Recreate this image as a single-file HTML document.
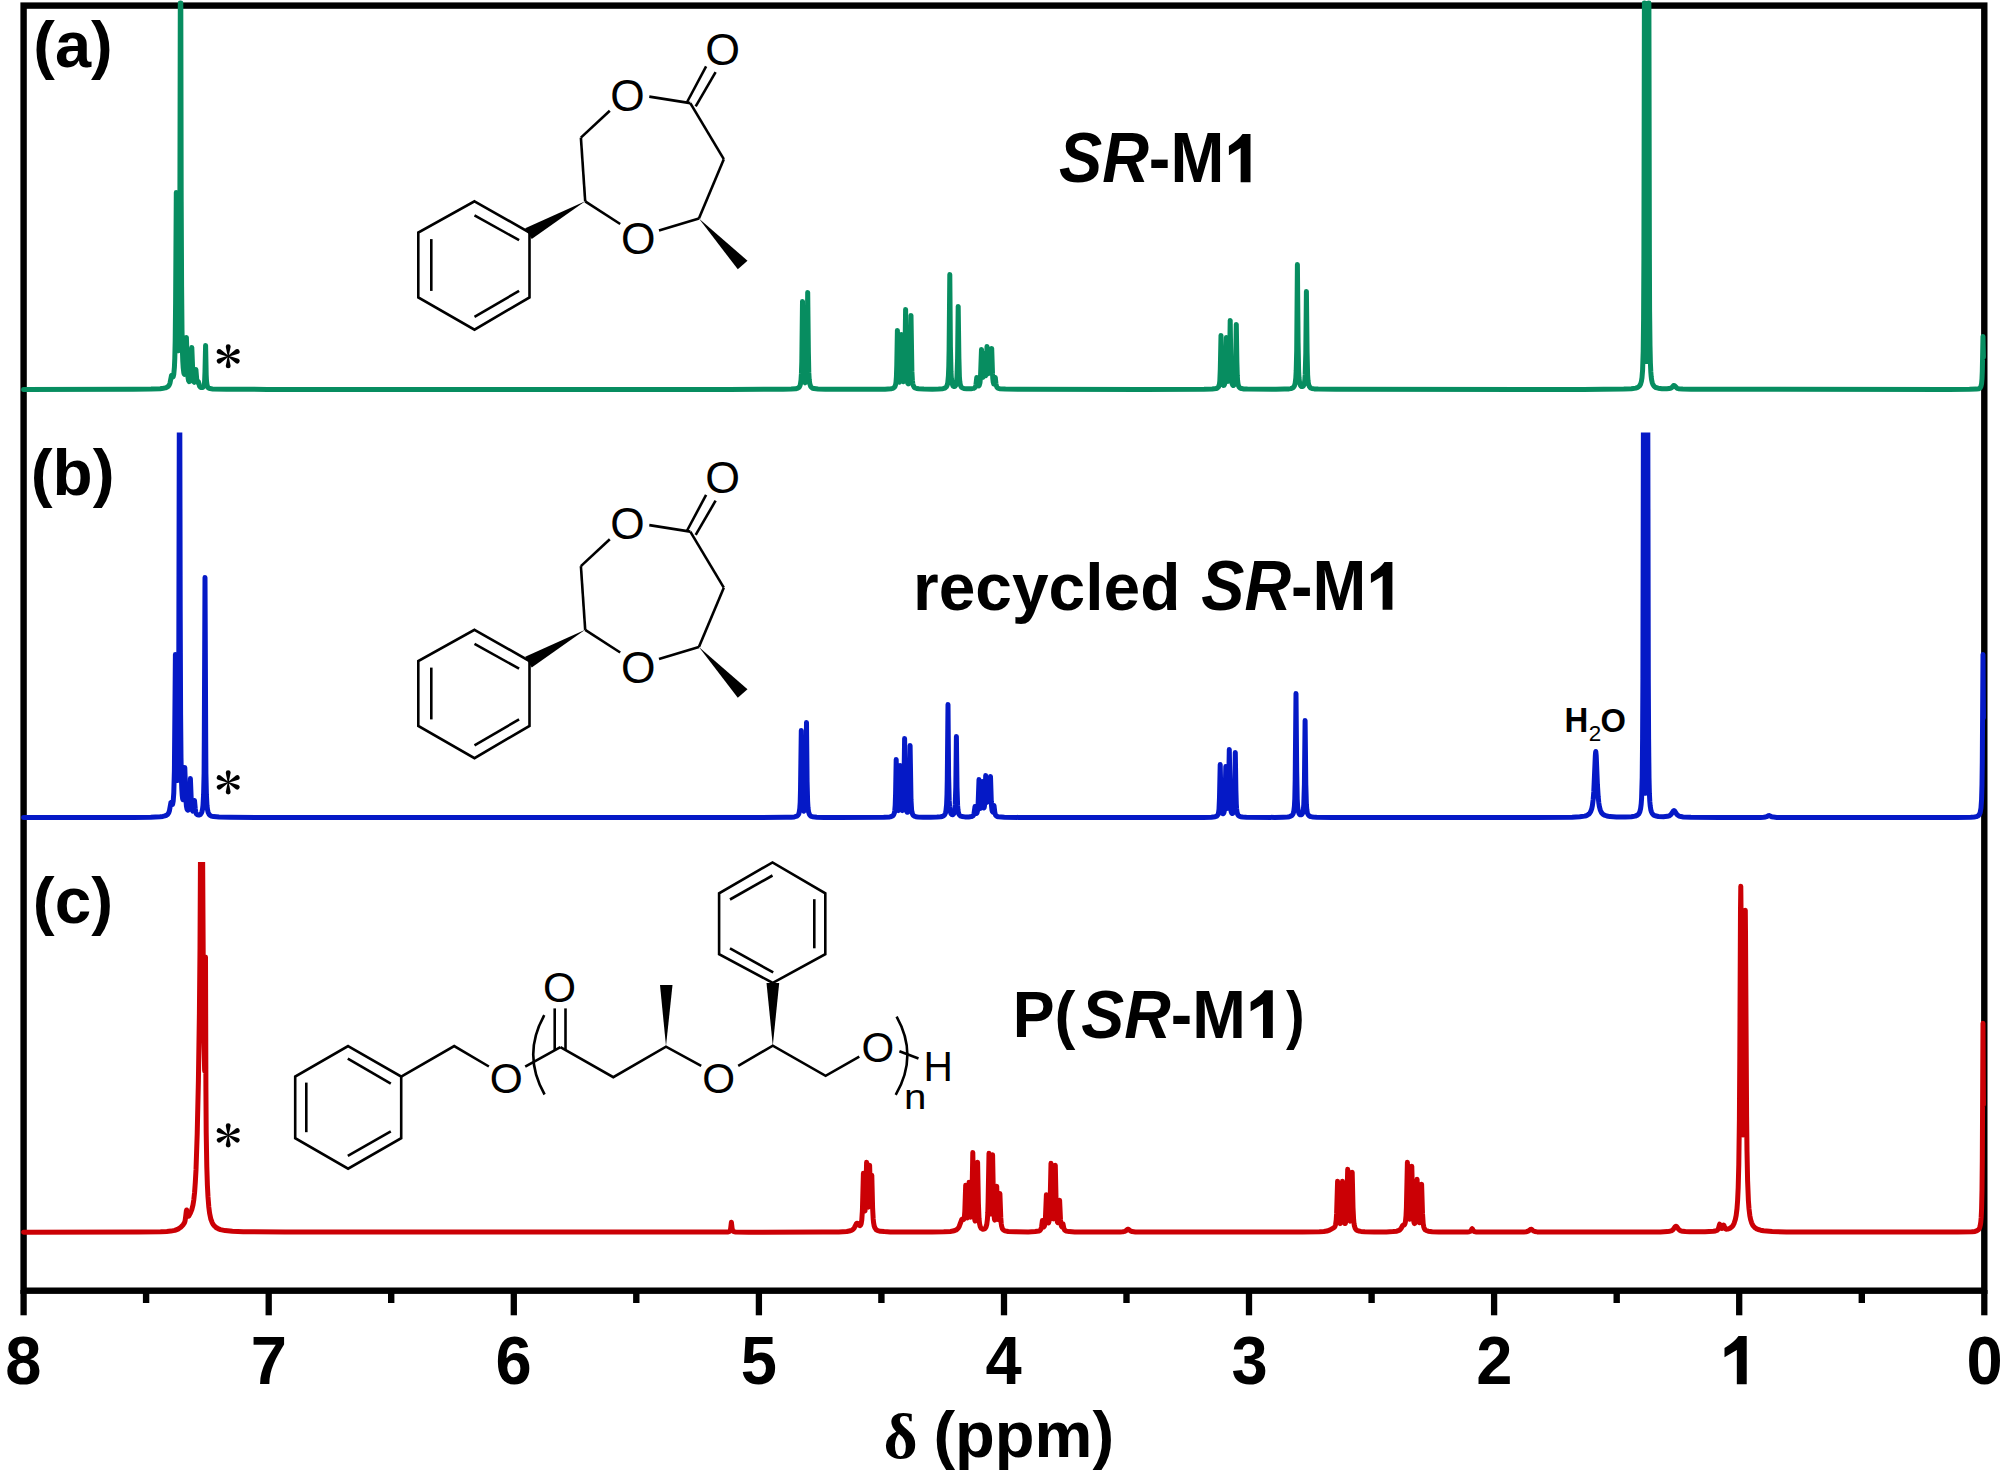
<!DOCTYPE html>
<html><head><meta charset="utf-8"><title>NMR spectra</title>
<style>html,body{margin:0;padding:0;background:#fff;overflow:hidden}svg{display:block}</style>
</head><body><svg width='2007' height='1483' viewBox='0 0 2007 1483'><rect width='2007' height='1483' fill='#fff'/><rect x='23.6' y='5.6' width='1960.7' height='1285.1' fill='none' stroke='#000' stroke-width='6.4'/><line x1='23.6' y1='1290' x2='23.6' y2='1315.3' stroke='#000' stroke-width='6.3'/><line x1='268.7' y1='1290' x2='268.7' y2='1315.3' stroke='#000' stroke-width='6.3'/><line x1='513.8' y1='1290' x2='513.8' y2='1315.3' stroke='#000' stroke-width='6.3'/><line x1='758.9' y1='1290' x2='758.9' y2='1315.3' stroke='#000' stroke-width='6.3'/><line x1='1004.0' y1='1290' x2='1004.0' y2='1315.3' stroke='#000' stroke-width='6.3'/><line x1='1249.0' y1='1290' x2='1249.0' y2='1315.3' stroke='#000' stroke-width='6.3'/><line x1='1494.1' y1='1290' x2='1494.1' y2='1315.3' stroke='#000' stroke-width='6.3'/><line x1='1739.2' y1='1290' x2='1739.2' y2='1315.3' stroke='#000' stroke-width='6.3'/><line x1='1984.3' y1='1290' x2='1984.3' y2='1315.3' stroke='#000' stroke-width='6.3'/><line x1='146.1' y1='1290' x2='146.1' y2='1303' stroke='#000' stroke-width='6.4'/><line x1='391.2' y1='1290' x2='391.2' y2='1303' stroke='#000' stroke-width='6.4'/><line x1='636.3' y1='1290' x2='636.3' y2='1303' stroke='#000' stroke-width='6.4'/><line x1='881.4' y1='1290' x2='881.4' y2='1303' stroke='#000' stroke-width='6.4'/><line x1='1126.5' y1='1290' x2='1126.5' y2='1303' stroke='#000' stroke-width='6.4'/><line x1='1371.6' y1='1290' x2='1371.6' y2='1303' stroke='#000' stroke-width='6.4'/><line x1='1616.7' y1='1290' x2='1616.7' y2='1303' stroke='#000' stroke-width='6.4'/><line x1='1861.8' y1='1290' x2='1861.8' y2='1303' stroke='#000' stroke-width='6.4'/><defs><clipPath id='cb'><rect x='0' y='432.4' width='2007' height='1100'/></clipPath><clipPath id='cc'><rect x='0' y='862' width='2007' height='700'/></clipPath></defs><g fill='none' stroke-width='5.0' stroke-linejoin='round' stroke-linecap='round'><path stroke='#078d60' d='M23.6 389.4L133.6 389.3L151.0 389.1L160.2 388.7L163.2 388.3L165.4 387.9L167.0 387.2L168.2 386.4L169.2 385.1L170.0 383.1L171.5 375.5L171.7 375.3L171.9 375.4L172.5 376.8L172.8 377.1L173.2 376.8L173.8 374.1L174.4 367.3L174.8 358.2L175.2 340.5L175.6 303.2L176.3 192.4L177.0 299.0L177.4 333.3L177.8 347.2L178.0 350.0L178.2 350.8L178.4 350.0L178.6 347.4L179.0 335.6L179.4 308.4L179.8 243.9L180.3 3.0L180.8 3.0L181.2 201.3L181.6 286.6L182.0 329.7L182.4 350.3L182.8 361.3L183.2 367.7L183.8 372.7L184.2 374.1L184.4 374.3L184.8 373.4L185.0 372.2L185.6 364.0L186.4 337.4L187.4 369.6L188.0 377.6L188.6 380.7L189.2 381.6L189.6 381.4L189.8 381.0L190.2 379.5L190.6 376.2L191.0 369.4L191.8 347.4L192.8 372.9L193.2 378.7L193.6 381.1L193.8 381.8L194.2 382.3L194.6 381.7L194.8 380.9L195.9 369.4L196.7 379.1L197.2 382.1L197.6 382.4L198.1 381.4L198.3 381.4L199.2 384.9L199.6 386.2L200.4 387.2L201.4 387.6L202.2 387.6L202.8 387.4L203.6 386.5L204.2 384.6L204.6 381.4L205.0 371.3L205.6 345.4L206.2 374.8L206.5 380.9L207.0 384.8L207.6 386.8L208.0 387.5L208.6 388.0L210.0 388.6L212.6 388.9L226.6 389.2L267.2 389.4L729.0 389.4L783.0 389.3L791.2 389.1L795.6 388.8L798.0 388.1L798.8 387.5L799.4 386.8L800.0 385.6L800.4 384.3L801.0 380.1L801.4 373.9L801.8 361.9L802.5 301.4L803.1 355.9L803.6 373.1L804.0 379.0L804.6 382.3L805.0 382.8L805.4 382.5L806.0 380.0L806.6 371.6L807.0 358.7L807.7 292.4L808.4 353.0L808.8 372.4L809.2 379.3L809.8 383.8L810.6 386.3L811.2 387.2L811.8 387.7L812.8 388.3L814.0 388.6L818.0 389.1L825.4 389.3L840.6 389.3L885.0 389.2L891.0 388.8L892.6 388.4L893.8 387.8L894.8 386.8L895.6 384.6L896.0 382.1L896.4 377.0L896.8 364.7L897.4 330.4L898.1 368.2L898.4 375.9L898.8 380.4L899.2 382.0L899.4 382.2L899.6 382.1L899.8 381.5L900.2 378.9L900.4 375.5L900.8 365.5L901.4 334.4L902.2 373.2L902.8 380.2L903.0 381.1L903.2 381.6L903.4 381.7L903.8 380.9L904.2 378.2L904.8 367.3L905.6 309.4L906.5 367.6L907.0 378.8L907.4 381.9L907.8 383.3L908.2 383.9L908.6 383.8L909.2 382.3L909.6 379.6L910.0 373.5L910.4 358.3L911.0 315.4L911.9 371.4L912.4 380.5L912.8 383.6L913.4 385.8L914.2 387.2L915.2 388.0L916.6 388.5L918.8 388.8L923.8 389.1L932.2 389.2L938.6 389.0L942.4 388.7L944.0 388.4L945.2 387.9L946.2 387.0L946.8 386.1L947.4 384.4L947.8 382.4L948.4 376.1L948.8 366.2L949.1 350.3L949.8 274.4L950.4 346.4L951.0 372.0L951.4 378.7L952.0 383.1L952.8 385.5L953.2 386.1L953.8 386.5L954.4 386.6L955.0 386.3L955.6 385.5L956.0 384.5L956.6 381.3L957.0 376.5L957.6 358.1L958.2 306.4L958.9 358.3L959.4 376.8L959.8 381.6L960.2 384.1L960.6 385.6L961.2 386.8L961.8 387.5L962.6 388.0L963.8 388.4L966.8 388.8L971.0 388.8L973.4 388.4L974.2 388.2L974.8 387.7L975.4 386.9L975.9 385.1L976.8 377.4L977.8 384.9L978.2 385.8L978.6 385.9L979.0 385.7L979.4 385.0L980.0 382.6L980.5 376.9L981.5 349.4L982.2 369.9L982.6 376.0L982.8 377.0L983.0 377.2L983.4 374.5L984.3 353.4L985.0 371.6L985.3 374.7L985.6 375.8L986.0 373.5L986.2 370.4L987.0 346.4L987.7 367.5L988.0 371.9L988.2 373.7L988.4 373.7L988.5 373.1L988.8 370.2L989.5 351.4L990.2 369.3L990.5 371.5L990.6 371.6L990.8 371.0L991.1 366.4L991.7 348.4L992.5 373.4L992.8 378.5L993.2 382.0L993.8 384.0L994.0 384.1L994.3 383.8L994.6 382.3L995.3 377.4L996.0 384.1L996.6 386.5L997.0 387.3L997.6 387.9L998.4 388.3L999.6 388.7L1005.4 389.1L1019.4 389.3L1143.4 389.4L1204.0 389.3L1212.2 389.1L1216.0 388.6L1217.6 387.9L1218.6 386.8L1219.0 385.8L1219.4 384.2L1219.8 381.0L1220.3 369.0L1221.0 335.4L1221.8 372.1L1222.2 380.5L1222.6 383.4L1223.2 385.1L1223.6 385.4L1224.0 385.3L1224.4 384.7L1224.8 383.3L1225.2 380.4L1225.8 369.1L1226.4 337.4L1227.3 375.1L1227.8 380.4L1228.2 381.3L1228.6 380.4L1229.0 377.1L1229.5 366.8L1230.2 320.4L1230.8 360.4L1231.2 373.5L1231.4 378.1L1231.8 382.0L1232.2 384.0L1232.8 385.3L1233.2 385.6L1233.6 385.5L1234.0 385.0L1234.4 384.0L1234.8 381.9L1235.2 377.5L1235.6 364.7L1236.3 324.4L1236.9 362.5L1237.3 376.0L1237.6 380.6L1238.0 383.8L1238.6 386.1L1239.2 387.2L1240.2 388.1L1241.6 388.6L1243.8 388.9L1247.4 389.1L1276.0 389.3L1284.4 389.1L1289.0 388.9L1290.8 388.6L1292.2 388.1L1293.2 387.5L1294.0 386.6L1294.6 385.4L1295.2 383.1L1295.8 378.1L1296.2 370.7L1296.7 350.8L1297.4 264.4L1298.1 342.7L1298.6 370.5L1299.0 377.8L1299.6 382.7L1300.4 385.3L1301.0 386.2L1301.6 386.6L1302.4 386.6L1303.0 386.3L1303.6 385.6L1304.0 384.6L1304.4 383.0L1304.8 380.1L1305.2 374.4L1305.8 352.7L1306.4 291.4L1307.1 352.8L1307.6 374.6L1308.0 380.4L1308.4 383.4L1308.8 385.1L1309.4 386.5L1310.0 387.3L1310.8 388.0L1312.0 388.5L1314.4 388.9L1318.2 389.1L1335.2 389.3L1583.4 389.4L1623.8 389.1L1631.4 388.8L1635.8 388.1L1637.8 387.4L1639.4 386.1L1640.6 384.1L1641.4 381.4L1642.0 377.6L1642.6 370.0L1643.2 351.3L1643.6 318.2L1643.9 258.5L1644.4 3.0L1644.6 3.0L1644.7 20.5L1645.2 270.1L1645.4 315.0L1645.8 346.1L1646.0 353.4L1646.4 360.5L1646.6 361.5L1646.8 361.1L1647.0 359.4L1647.4 350.2L1647.8 320.8L1648.3 222.3L1648.7 3.0L1648.9 3.0L1649.4 258.5L1649.6 311.4L1650.0 345.5L1650.4 363.0L1650.8 371.7L1651.2 376.6L1651.6 379.7L1652.2 382.6L1653.0 384.7L1654.0 386.2L1654.8 386.9L1655.8 387.5L1658.2 388.2L1662.0 388.7L1666.8 388.8L1669.2 388.6L1670.8 388.1L1672.0 387.3L1673.5 385.6L1674.0 385.4L1674.6 385.7L1676.6 387.8L1677.4 388.3L1678.6 388.7L1682.6 389.1L1691.0 389.3L1948.6 389.4L1969.4 389.3L1976.4 389.1L1978.8 388.7L1979.6 388.3L1980.2 387.8L1981.0 386.3L1981.6 383.4L1982.0 378.8L1982.3 371.5L1983.0 336.4L1983.4 357.1'/><path stroke='#0519c6' clip-path='url(#cb)' d='M23.6 817.5L133.6 817.4L150.8 817.2L160.0 816.7L162.8 816.4L164.8 815.9L166.4 815.3L167.6 814.4L168.6 813.1L169.4 810.9L170.9 802.6L171.1 802.4L171.3 802.6L171.9 804.2L172.2 804.6L172.4 804.5L172.6 804.2L173.2 801.1L173.8 792.8L174.4 770.5L175.4 654.5L176.1 741.0L176.6 772.2L177.0 779.8L177.2 780.5L177.4 779.4L177.8 771.9L178.2 753.6L178.6 712.1L178.8 659.4L179.3 422.4L179.8 422.4L180.2 610.5L180.6 714.7L181.0 757.8L181.4 778.2L181.8 789.0L182.2 795.1L182.6 798.4L183.0 799.7L183.2 799.5L183.4 798.8L184.0 791.8L184.8 767.5L185.8 798.2L186.4 805.9L187.0 809.0L187.6 810.1L188.0 810.2L188.2 810.0L188.6 809.0L189.0 806.9L189.6 799.8L190.4 778.5L191.3 801.2L191.6 805.6L192.0 808.9L192.4 810.4L192.8 811.0L193.2 810.6L193.4 809.9L194.5 800.5L195.3 809.1L195.8 812.2L196.2 813.5L196.6 814.2L197.2 814.7L198.0 815.0L199.2 815.0L200.4 814.4L201.4 813.1L202.0 811.6L202.6 808.7L203.0 805.4L203.6 794.5L204.1 773.1L204.3 739.4L205.0 577.5L205.7 739.5L205.9 773.2L206.4 794.7L207.0 805.6L207.6 810.2L208.2 812.5L209.0 814.2L210.0 815.3L211.4 816.1L213.6 816.6L219.0 817.1L229.6 817.3L294.4 817.5L760.6 817.5L786.0 817.3L791.2 817.2L794.4 816.9L796.8 816.2L797.6 815.6L798.2 815.0L798.8 813.8L799.2 812.4L799.8 808.4L800.2 802.2L800.5 790.3L801.3 730.5L801.9 784.3L802.4 801.4L802.8 807.2L803.4 810.5L803.8 811.1L804.2 810.8L804.8 808.3L805.4 800.1L805.8 787.4L806.5 722.5L807.1 781.8L807.6 800.8L808.0 807.6L808.6 812.0L809.4 814.4L810.0 815.3L810.6 815.9L811.6 816.4L812.8 816.7L816.8 817.2L824.0 817.4L839.0 817.4L883.8 817.3L889.8 816.9L891.4 816.5L892.6 816.0L893.6 814.9L894.4 812.8L894.8 810.3L895.2 805.3L895.6 793.3L896.2 759.5L896.9 796.7L897.2 804.3L897.6 808.7L898.0 810.4L898.2 810.6L898.4 810.5L898.6 810.0L899.0 807.6L899.2 804.3L899.6 794.9L900.2 765.5L901.1 803.3L901.6 809.0L902.0 810.4L902.2 810.6L902.4 810.5L902.8 809.5L903.2 806.7L903.8 795.9L904.6 738.5L905.5 796.1L906.0 807.1L906.4 810.2L906.8 811.6L907.2 812.3L907.6 812.3L908.2 811.1L908.8 806.9L909.1 802.0L909.5 787.3L910.1 745.5L911.0 800.0L911.6 809.8L912.0 812.3L912.6 814.3L913.4 815.5L914.4 816.2L915.8 816.7L918.0 817.0L923.0 817.2L930.8 817.2L937.0 817.1L940.6 816.8L942.2 816.5L943.4 816.0L944.4 815.1L945.0 814.2L945.6 812.6L946.0 810.6L946.6 804.5L947.0 794.7L947.3 779.1L948.0 704.5L948.6 775.2L949.2 800.4L949.6 807.0L950.2 811.4L951.0 813.7L951.4 814.2L952.0 814.6L952.6 814.7L953.2 814.4L953.8 813.7L954.2 812.7L954.8 809.6L955.2 804.9L955.8 787.0L956.4 736.5L957.0 787.1L957.6 805.2L958.0 809.9L958.4 812.4L958.8 813.8L959.4 815.0L960.0 815.6L960.8 816.1L962.0 816.5L964.8 816.9L968.8 816.9L971.4 816.6L972.8 816.0L973.6 815.1L974.0 813.7L975.0 806.5L976.0 812.7L976.4 813.4L976.8 813.2L977.0 812.8L977.6 810.4L978.1 804.8L979.0 779.5L979.7 799.6L980.2 806.8L980.4 807.9L980.6 808.3L980.8 808.2L981.3 805.2L982.3 781.5L983.1 802.9L983.6 807.2L983.8 807.9L984.0 808.0L984.4 806.6L984.9 801.1L985.7 775.5L986.4 796.2L986.8 801.7L987.0 802.3L987.2 801.5L987.4 799.3L988.2 779.5L989.0 797.9L989.2 800.5L989.4 800.7L989.5 800.2L989.9 795.0L990.5 776.5L991.3 801.5L991.6 806.6L992.0 810.1L992.4 811.6L992.8 812.0L993.0 811.8L993.4 810.3L994.0 805.5L994.8 812.2L995.4 814.8L995.8 815.5L996.4 816.1L997.2 816.5L998.4 816.8L1004.4 817.2L1018.6 817.4L1146.4 817.5L1203.4 817.4L1211.4 817.2L1215.2 816.7L1216.8 816.1L1217.8 814.9L1218.2 814.0L1218.6 812.4L1219.0 809.3L1219.5 797.5L1220.2 764.5L1221.0 800.6L1221.4 808.8L1221.8 811.7L1222.4 813.4L1222.8 813.8L1223.4 813.6L1223.8 812.9L1224.2 811.6L1224.6 808.7L1225.1 797.6L1225.8 766.5L1226.6 802.1L1227.2 807.9L1227.4 808.3L1227.6 808.2L1227.8 807.4L1228.2 803.6L1228.5 794.9L1229.3 749.5L1230.2 800.5L1230.8 809.5L1231.2 811.7L1231.8 813.2L1232.2 813.5L1232.6 813.5L1233.0 813.1L1233.4 812.1L1233.8 810.0L1234.2 805.5L1234.6 792.8L1235.3 752.5L1235.9 790.6L1236.3 804.1L1236.6 808.7L1237.0 811.9L1237.6 814.2L1238.2 815.3L1239.2 816.2L1240.6 816.7L1242.8 817.0L1246.4 817.2L1274.6 817.4L1283.0 817.2L1287.6 817.0L1289.4 816.7L1290.8 816.2L1291.8 815.6L1292.6 814.7L1293.2 813.5L1293.8 811.2L1294.4 806.3L1294.8 799.0L1295.2 779.2L1296.0 693.5L1296.7 771.2L1297.2 798.8L1297.6 806.1L1298.2 810.9L1299.0 813.5L1299.6 814.4L1300.2 814.8L1301.0 814.8L1301.6 814.6L1302.2 813.9L1302.6 813.1L1303.0 811.7L1303.4 809.2L1303.8 804.5L1304.4 784.4L1305.1 720.5L1305.8 784.5L1306.4 804.7L1306.8 809.5L1307.2 812.1L1307.6 813.5L1308.2 814.8L1308.8 815.6L1309.6 816.1L1310.8 816.6L1313.0 817.0L1316.6 817.2L1332.4 817.4L1535.0 817.4L1572.2 817.2L1579.8 816.8L1584.6 816.1L1586.2 815.7L1587.6 815.0L1588.8 814.2L1589.8 813.1L1590.6 811.7L1591.2 810.3L1591.8 808.4L1592.4 805.5L1593.2 799.3L1593.8 791.7L1595.3 756.3L1595.6 752.5L1595.8 751.5L1596.2 755.4L1597.4 784.5L1598.2 797.1L1598.8 802.8L1599.4 806.6L1600.2 809.7L1601.4 812.5L1602.8 814.1L1604.4 815.2L1606.8 816.0L1610.0 816.6L1616.4 816.9L1625.4 817.0L1631.4 816.7L1635.2 816.1L1637.4 815.1L1638.8 813.8L1639.8 811.8L1640.6 808.7L1641.2 803.9L1641.6 798.0L1642.2 777.5L1642.6 738.4L1642.9 680.3L1643.4 422.4L1643.5 424.4L1644.1 707.0L1644.4 754.9L1644.8 782.2L1645.0 787.6L1645.4 792.7L1645.6 793.2L1645.8 792.7L1646.0 790.9L1646.6 773.6L1646.9 749.5L1647.2 678.7L1647.7 424.4L1647.8 422.4L1648.3 680.3L1648.6 738.4L1649.0 777.5L1649.4 793.5L1649.8 801.4L1650.2 805.9L1650.8 809.7L1651.4 811.8L1652.2 813.5L1653.2 814.7L1654.2 815.4L1655.2 815.8L1658.4 816.5L1663.4 816.7L1667.4 816.3L1669.2 815.8L1670.6 814.9L1671.6 813.7L1673.3 811.0L1674.0 810.5L1674.7 811.0L1677.0 814.6L1678.0 815.4L1679.2 816.1L1681.0 816.6L1683.2 816.9L1690.8 817.3L1720.0 817.4L1760.4 817.4L1763.6 817.2L1765.6 817.0L1766.8 816.6L1768.4 815.7L1769.0 815.5L1769.5 815.6L1771.6 816.7L1773.4 817.1L1776.8 817.4L1783.6 817.4L1957.0 817.4L1970.8 817.2L1974.2 817.0L1976.4 816.6L1977.8 816.0L1978.8 815.2L1979.6 814.0L1980.2 812.5L1981.0 807.9L1981.6 799.1L1982.0 784.9L1982.3 762.4L1983.0 654.5L1983.4 718.1'/><path stroke='#cb0005' clip-path='url(#cc)' d='M23.6 1232.2L138.6 1232.0L160.6 1231.7L166.8 1231.4L170.8 1231.1L174.8 1230.4L178.0 1229.1L180.8 1227.2L183.2 1224.7L184.4 1222.8L185.0 1221.1L185.5 1218.0L186.3 1211.2L186.6 1210.0L186.8 1210.7L187.6 1215.2L188.0 1216.2L188.4 1216.3L188.8 1216.0L190.4 1213.1L191.8 1209.6L193.0 1204.8L193.8 1199.8L194.6 1192.2L195.3 1182.4L196.0 1169.9L197.2 1134.0L198.4 1080.7L199.4 1013.3L200.0 947.7L200.5 852.0L202.6 852.0L203.4 988.8L204.0 1043.5L204.6 1069.5L204.7 1071.0L204.8 1069.6L205.0 1057.0L205.5 957.1L205.9 1087.7L206.2 1132.5L206.8 1166.8L207.4 1185.3L208.0 1196.9L208.8 1207.0L209.6 1213.3L210.8 1219.0L212.2 1222.7L213.2 1224.4L214.2 1225.7L215.6 1227.1L217.0 1228.1L218.6 1228.9L220.4 1229.6L225.2 1230.6L232.4 1231.3L243.2 1231.7L285.0 1232.1L724.2 1232.1L728.2 1231.9L729.2 1231.6L729.8 1231.1L730.2 1230.4L730.6 1229.0L731.4 1222.2L732.1 1228.4L732.6 1230.4L733.0 1231.1L733.6 1231.6L735.6 1232.0L748.8 1232.2L822.4 1232.1L838.8 1231.9L846.8 1231.5L850.4 1230.8L851.8 1230.2L852.8 1229.6L853.6 1228.8L854.4 1227.7L856.2 1224.0L856.9 1223.2L857.2 1223.2L857.5 1223.4L859.0 1225.2L859.8 1225.7L860.2 1225.5L860.6 1225.1L861.2 1223.5L861.8 1219.8L862.4 1210.5L863.4 1173.2L864.3 1204.2L864.6 1209.2L864.8 1210.7L865.0 1210.8L865.4 1207.5L865.7 1200.7L866.6 1162.2L867.5 1197.8L868.0 1207.0L868.2 1207.1L868.4 1205.7L868.7 1200.3L869.6 1165.2L870.6 1197.7L870.8 1198.6L870.8 1198.3L871.0 1195.7L871.6 1177.9L871.8 1175.2L872.6 1207.8L873.2 1218.9L873.6 1222.8L874.2 1226.0L875.0 1228.1L876.2 1229.7L877.8 1230.6L880.4 1231.3L884.2 1231.6L890.2 1231.9L907.0 1232.0L932.0 1232.0L943.8 1231.8L950.4 1231.4L952.8 1231.1L954.8 1230.5L956.2 1229.9L957.4 1229.0L958.4 1227.8L959.2 1226.4L961.8 1219.5L962.0 1219.2L962.4 1219.1L963.2 1219.6L963.6 1219.6L964.0 1218.9L964.4 1216.7L964.8 1211.5L965.7 1185.2L966.7 1212.5L967.0 1216.6L967.2 1217.6L967.4 1217.8L967.6 1217.4L968.0 1214.2L968.2 1209.7L969.1 1182.2L970.1 1211.4L970.4 1215.7L970.6 1216.7L970.8 1217.0L971.0 1216.5L971.6 1209.9L971.9 1201.7L972.8 1152.6L973.7 1202.4L974.0 1211.1L974.6 1218.8L975.0 1220.7L975.2 1221.0L975.4 1220.9L975.6 1220.5L976.0 1218.3L976.4 1213.3L976.9 1200.1L977.6 1162.2L978.4 1203.2L979.0 1218.3L979.6 1223.9L980.2 1226.5L980.8 1227.8L981.4 1228.5L982.2 1229.0L983.0 1229.2L984.0 1229.1L984.8 1228.7L985.4 1228.1L986.0 1227.0L986.8 1224.2L987.4 1219.4L987.8 1212.7L988.1 1201.8L989.0 1153.2L989.9 1199.4L990.2 1209.0L990.6 1213.4L990.8 1213.9L991.0 1213.4L991.2 1211.9L991.6 1203.2L992.6 1154.7L993.5 1203.1L993.8 1211.4L994.4 1218.7L994.6 1219.7L994.8 1220.1L995.0 1220.0L995.4 1218.2L995.6 1216.2L996.0 1209.6L996.7 1186.2L997.6 1212.2L997.8 1216.4L998.2 1219.4L998.4 1219.6L998.6 1219.2L999.0 1215.5L999.9 1193.5L1000.8 1217.9L1001.2 1223.3L1001.6 1226.1L1002.4 1228.7L1003.4 1230.0L1004.2 1230.5L1005.2 1230.9L1008.2 1231.5L1015.6 1231.8L1028.2 1231.9L1035.2 1231.6L1038.8 1231.1L1040.2 1230.3L1041.0 1229.0L1041.6 1226.9L1042.4 1220.6L1043.3 1225.9L1043.6 1226.7L1043.8 1226.9L1044.0 1226.8L1044.4 1226.1L1044.8 1224.5L1045.4 1218.6L1046.4 1194.7L1047.4 1217.4L1048.0 1222.2L1048.2 1222.7L1048.4 1222.9L1048.6 1222.8L1049.0 1221.5L1049.4 1218.5L1050.0 1207.7L1051.0 1163.2L1052.0 1205.3L1052.4 1214.5L1052.8 1218.0L1053.0 1218.7L1053.2 1218.8L1053.6 1217.6L1054.2 1209.8L1055.3 1165.2L1056.2 1206.9L1056.6 1214.9L1057.2 1221.1L1057.4 1222.0L1057.8 1222.6L1058.2 1221.8L1058.4 1220.7L1058.8 1216.1L1059.6 1200.2L1060.5 1219.7L1061.0 1224.2L1061.4 1226.1L1061.8 1226.8L1062.1 1226.6L1062.8 1224.2L1063.0 1223.9L1063.9 1228.4L1064.6 1230.0L1065.2 1230.6L1066.2 1231.1L1069.2 1231.6L1074.8 1231.9L1085.2 1232.1L1109.4 1232.1L1120.0 1232.0L1122.8 1231.8L1124.6 1231.4L1125.8 1230.8L1127.4 1229.4L1128.0 1229.2L1128.6 1229.4L1130.4 1230.9L1132.2 1231.6L1135.4 1232.0L1141.6 1232.1L1302.4 1232.1L1319.4 1231.8L1323.8 1231.5L1326.8 1231.1L1329.6 1230.1L1334.0 1227.6L1334.6 1227.0L1335.0 1226.3L1335.6 1224.4L1336.2 1220.1L1336.6 1213.9L1337.6 1181.2L1338.5 1212.3L1339.0 1219.3L1339.4 1222.2L1339.8 1223.4L1340.0 1223.6L1340.2 1223.5L1340.4 1223.2L1340.8 1221.6L1341.2 1218.2L1341.7 1208.4L1342.5 1181.2L1343.3 1208.4L1343.8 1218.1L1344.4 1222.6L1344.8 1223.5L1345.0 1223.6L1345.2 1223.5L1345.4 1223.2L1346.0 1220.3L1346.6 1212.0L1347.7 1169.2L1348.6 1206.3L1349.0 1215.1L1349.4 1219.2L1349.8 1220.8L1350.0 1221.0L1350.2 1220.8L1350.6 1218.9L1351.0 1214.2L1351.4 1204.4L1352.2 1172.2L1353.0 1207.3L1353.6 1219.3L1354.0 1223.4L1354.4 1225.8L1355.0 1227.9L1355.8 1229.3L1357.0 1230.4L1358.6 1231.0L1361.0 1231.4L1364.8 1231.7L1374.2 1231.9L1386.4 1231.9L1393.0 1231.6L1396.8 1231.2L1399.0 1230.4L1400.4 1229.4L1401.2 1228.3L1402.8 1225.3L1403.3 1225.0L1404.2 1224.9L1404.6 1224.5L1405.0 1223.6L1405.4 1221.9L1406.0 1216.1L1406.4 1207.5L1407.4 1162.2L1408.4 1206.5L1408.8 1214.5L1409.4 1218.9L1409.6 1219.2L1409.8 1219.0L1410.0 1218.3L1410.6 1212.0L1411.0 1201.3L1411.8 1166.2L1412.8 1208.6L1413.4 1218.9L1414.0 1222.6L1414.4 1223.5L1414.6 1223.6L1414.8 1223.4L1415.0 1223.0L1415.4 1221.4L1415.8 1217.7L1416.3 1207.5L1417.1 1179.2L1418.0 1210.3L1418.4 1217.7L1418.8 1221.2L1419.2 1222.6L1419.4 1222.8L1419.6 1222.7L1420.0 1221.2L1420.4 1217.6L1420.8 1209.8L1421.6 1184.2L1422.5 1213.4L1423.2 1223.7L1423.8 1227.0L1424.2 1228.2L1424.8 1229.3L1425.4 1230.0L1426.2 1230.5L1428.2 1231.2L1432.2 1231.7L1439.0 1232.0L1457.6 1232.1L1467.4 1232.0L1469.2 1231.8L1470.4 1231.3L1471.0 1230.6L1471.8 1229.0L1472.1 1228.7L1472.4 1229.0L1473.4 1230.9L1474.2 1231.5L1475.8 1231.9L1479.4 1232.1L1511.6 1232.1L1523.8 1232.0L1526.2 1231.7L1527.8 1231.3L1529.0 1230.7L1530.5 1229.4L1531.0 1229.2L1531.6 1229.4L1533.4 1231.0L1534.8 1231.5L1537.2 1231.9L1541.2 1232.1L1616.2 1232.1L1660.4 1232.0L1667.4 1231.6L1669.4 1231.3L1671.0 1230.9L1672.0 1230.4L1673.0 1229.7L1675.3 1226.6L1676.0 1226.2L1676.7 1226.6L1678.4 1229.0L1679.4 1230.0L1680.8 1230.8L1682.6 1231.3L1685.4 1231.6L1689.6 1231.8L1705.0 1231.7L1713.4 1231.3L1715.4 1231.0L1716.8 1230.5L1717.6 1229.9L1718.2 1229.0L1718.7 1227.7L1719.5 1224.6L1719.7 1224.2L1720.0 1224.7L1720.8 1227.5L1721.4 1228.4L1722.0 1228.5L1722.4 1228.1L1723.5 1225.5L1723.7 1225.2L1724.0 1225.6L1724.8 1227.9L1725.4 1228.7L1726.4 1229.2L1727.8 1229.1L1729.2 1228.7L1730.4 1228.0L1731.6 1227.1L1732.6 1226.0L1733.4 1224.8L1734.2 1223.1L1735.4 1219.3L1736.2 1215.2L1737.0 1208.6L1737.6 1200.6L1738.2 1187.5L1738.8 1164.4L1739.4 1119.4L1739.8 1056.7L1740.5 909.0L1740.8 886.2L1741.0 906.2L1742.0 1080.4L1742.4 1115.6L1742.8 1132.1L1743.0 1135.0L1743.2 1134.8L1743.4 1131.4L1744.0 1098.1L1745.0 928.5L1745.3 910.2L1745.5 931.5L1746.6 1116.3L1747.0 1151.3L1747.6 1180.9L1748.4 1200.6L1749.0 1208.7L1749.8 1215.4L1750.6 1219.5L1751.6 1222.8L1753.0 1225.6L1754.6 1227.4L1756.2 1228.6L1758.2 1229.5L1760.6 1230.2L1763.6 1230.8L1772.2 1231.5L1786.4 1231.9L1839.4 1232.1L1957.8 1232.1L1971.8 1231.8L1975.0 1231.4L1977.2 1230.6L1978.4 1229.7L1979.2 1228.6L1979.8 1227.2L1980.4 1224.7L1980.8 1221.9L1981.2 1217.2L1981.6 1208.5L1982.0 1190.4L1982.3 1161.6L1983.0 1023.2L1983.4 1104.8'/></g><g stroke='#000' stroke-width='2.6' stroke-linecap='butt' stroke-linejoin='miter'><polygon points='474.5,201.3 529.5,232.6 529.5,297.4 474.5,329.7 418.3,297.4 418.3,232.6' fill='none'/><line x1='474.5' y1='215.3' x2='519.1' y2='240.2'/><line x1='431.3' y1='239.1' x2='431.3' y2='290.9'/><line x1='474.5' y1='316.8' x2='519.1' y2='290.9'/><line x1='585.2' y1='201.3' x2='580.9' y2='137.6'/><line x1='580.9' y1='137.6' x2='609.8' y2='110.7'/><line x1='649.3' y1='96.6' x2='690.3' y2='103.1'/><line x1='690.3' y1='103.1' x2='723.8' y2='159.2'/><line x1='723.8' y1='159.2' x2='698.9' y2='218.6'/><line x1='698.9' y1='218.6' x2='659.0' y2='230.4'/><line x1='620.2' y1='224.0' x2='585.2' y2='201.3'/><line x1='687.1' y1='102.0' x2='706.1' y2='66.4'/><line x1='695.7' y1='106.3' x2='715.6' y2='72.2'/><polygon points='585.2,201.3 525.2,228.3 531.7,239.1' fill='#000' stroke='none'/><polygon points='698.9,218.6 737.8,269.3 747.5,260.7' fill='#000' stroke='none'/></g><text transform='matrix(0.4426 0 0 0.4437 610.19 110.76)' x='0' y='0' font-size='100' font-family='Liberation Sans'>O</text><text transform='matrix(0.4441 0 0 0.4423 620.98 254.46)' x='0' y='0' font-size='100' font-family='Liberation Sans'>O</text><text transform='matrix(0.4471 0 0 0.4437 705.26 64.96)' x='0' y='0' font-size='100' font-family='Liberation Sans'>O</text><g stroke='#000' stroke-width='2.6' stroke-linecap='butt' stroke-linejoin='miter'><polygon points='474.5,629.8 529.5,661.1 529.5,725.9 474.5,758.2 418.3,725.9 418.3,661.1' fill='none'/><line x1='474.5' y1='643.8' x2='519.1' y2='668.7'/><line x1='431.3' y1='667.6' x2='431.3' y2='719.4'/><line x1='474.5' y1='745.3' x2='519.1' y2='719.4'/><line x1='585.2' y1='629.8' x2='580.9' y2='566.1'/><line x1='580.9' y1='566.1' x2='609.8' y2='539.2'/><line x1='649.3' y1='525.1' x2='690.3' y2='531.6'/><line x1='690.3' y1='531.6' x2='723.8' y2='587.7'/><line x1='723.8' y1='587.7' x2='698.9' y2='647.1'/><line x1='698.9' y1='647.1' x2='659.0' y2='658.9'/><line x1='620.2' y1='652.5' x2='585.2' y2='629.8'/><line x1='687.1' y1='530.5' x2='706.1' y2='494.9'/><line x1='695.7' y1='534.8' x2='715.6' y2='500.7'/><polygon points='585.2,629.8 525.2,656.8 531.7,667.6' fill='#000' stroke='none'/><polygon points='698.9,647.1 737.8,697.8 747.5,689.2' fill='#000' stroke='none'/></g><text transform='matrix(0.4426 0 0 0.4437 610.19 539.26)' x='0' y='0' font-size='100' font-family='Liberation Sans'>O</text><text transform='matrix(0.4441 0 0 0.4423 620.98 682.96)' x='0' y='0' font-size='100' font-family='Liberation Sans'>O</text><text transform='matrix(0.4471 0 0 0.4437 705.26 493.46)' x='0' y='0' font-size='100' font-family='Liberation Sans'>O</text><g stroke='#000' stroke-width='2.6' stroke-linecap='butt' stroke-linejoin='miter'><polygon points='348.1,1046.1 401.2,1076.6 401.2,1138.2 348.1,1168.7 295.2,1138.2 295.2,1076.6' fill='none'/><line x1='347.8' y1='1058.7' x2='390.8' y2='1083.6'/><line x1='306.3' y1='1082.6' x2='306.3' y2='1132.2'/><line x1='347.8' y1='1155.8' x2='390.8' y2='1131.4'/><polyline points='401.2,1076.6 454.2,1046.1 488.9,1066.5' fill='none'/><line x1='525.2' y1='1066.7' x2='560.4' y2='1047.1'/><line x1='554.7' y1='1008.4' x2='554.7' y2='1050.0'/><line x1='565.5' y1='1008.4' x2='565.5' y2='1050.0'/><polyline points='560.4,1047.1 613.3,1077.2 666.0,1046.7 701.2,1065.8' fill='none'/><polygon points='666.0,1046.1 660.0,985.1 672.5,985.1' fill='#000' stroke='none'/><polyline points='738.2,1065.8 772.8,1045.7 825.6,1075.8 859.3,1056.7' fill='none'/><polygon points='772.8,1045.7 766.5,982.9 779.2,982.9' fill='#000' stroke='none'/><polygon points='772.8,982.9 825.3,954.2 825.3,893.3 772.5,862.4 719.1,893.3 719.1,954.2' fill='none'/><line x1='730.0' y1='899.5' x2='772.5' y2='875.5'/><line x1='814.3' y1='899.2' x2='814.3' y2='948.3'/><line x1='730.0' y1='948.3' x2='773.2' y2='972.4'/><line x1='899.4' y1='1051.2' x2='918.5' y2='1058.5'/><path d='M544.3 1015.2 Q522.0 1054.8 544.6 1094.5' fill='none'/><path d='M896.6 1016.6 Q918.6 1055.8 895.7 1094.9' fill='none'/></g><text transform='matrix(0.4250 0 0 0.4225 489.77 1092.98)' x='0' y='0' font-size='100' font-family='Liberation Sans'>O</text><text transform='matrix(0.4250 0 0 0.4225 542.98 1001.58)' x='0' y='0' font-size='100' font-family='Liberation Sans'>O</text><text transform='matrix(0.4221 0 0 0.4225 702.29 1092.58)' x='0' y='0' font-size='100' font-family='Liberation Sans'>O</text><text transform='matrix(0.4206 0 0 0.4268 861.60 1061.77)' x='0' y='0' font-size='100' font-family='Liberation Sans'>O</text><text transform='matrix(0.4071 0 0 0.4217 923.44 1081.20)' x='0' y='0' font-size='100' font-family='Liberation Sans'>H</text><text transform='matrix(0.4024 0 0 0.3556 903.88 1108.60)' x='0' y='0' font-size='100' font-family='Liberation Sans'>n</text><g fill='#000'><text transform='matrix(0.6500 0 0 0.6457 33.25 67.14)' x='0' y='0' font-size='100' font-family='Liberation Sans' font-weight='bold'>(a)</text><text transform='matrix(0.6568 0 0 0.6489 30.72 495.27)' x='0' y='0' font-size='100' font-family='Liberation Sans' font-weight='bold'>(b)</text><text transform='matrix(0.6571 0 0 0.6468 32.81 923.22)' x='0' y='0' font-size='100' font-family='Liberation Sans' font-weight='bold'>(c)</text><text transform='matrix(0.6464 0 0 0.6986 1059.05 182.10)' x='0' y='0' font-size='100' font-family='Liberation Sans' font-weight='bold'><tspan font-style='italic'>SR</tspan>-M</text><path d='M1242.51 134.10 L1250.50 134.10 L1250.50 182.20 L1240.64 182.20 L1240.64 148.05 L1228.90 155.26 L1228.90 146.12 Q1238.84 139.87 1242.51 134.10Z'/><text transform='matrix(0.6589 0 0 0.6606 912.99 609.93)' x='0' y='0' font-size='100' font-family='Liberation Sans' font-weight='bold'>recycled</text><text transform='matrix(0.6456 0 0 0.7000 1201.35 610.00)' x='0' y='0' font-size='100' font-family='Liberation Sans' font-weight='bold'><tspan font-style='italic'>SR</tspan>-M</text><path d='M1384.45 562.10 L1392.40 562.10 L1392.40 609.80 L1382.62 609.80 L1382.62 575.93 L1370.90 583.09 L1370.90 574.02 Q1380.79 567.82 1384.45 562.10Z'/><text transform='matrix(0.6280 0 0 0.6436 1012.70 1037.18)' x='0' y='0' font-size='100' font-family='Liberation Sans' font-weight='bold'>P(</text><text transform='matrix(0.6435 0 0 0.6915 1081.36 1037.91)' x='0' y='0' font-size='100' font-family='Liberation Sans' font-weight='bold'><tspan font-style='italic'>SR</tspan>-M</text><path d='M1264.59 990.20 L1272.80 990.20 L1272.80 1037.90 L1263.02 1037.90 L1263.02 1004.03 L1250.60 1011.19 L1250.60 1002.12 Q1260.81 995.92 1264.59 990.20Z'/><text transform='matrix(0.5571 0 0 0.6436 1286.00 1037.18)' x='0' y='0' font-size='100' font-family='Liberation Sans' font-weight='bold'>)</text><text transform='matrix(0.6510 0 0 0.6790 5.37 1383.90)' x='0' y='0' font-size='100' font-family='Liberation Sans' font-weight='bold'>8</text><text transform='matrix(0.6510 0 0 0.6790 250.78 1383.90)' x='0' y='0' font-size='100' font-family='Liberation Sans' font-weight='bold'>7</text><text transform='matrix(0.6510 0 0 0.6790 495.55 1383.90)' x='0' y='0' font-size='100' font-family='Liberation Sans' font-weight='bold'>6</text><text transform='matrix(0.6510 0 0 0.6790 740.63 1383.90)' x='0' y='0' font-size='100' font-family='Liberation Sans' font-weight='bold'>5</text><text transform='matrix(0.6510 0 0 0.6790 985.40 1383.90)' x='0' y='0' font-size='100' font-family='Liberation Sans' font-weight='bold'>4</text><text transform='matrix(0.6510 0 0 0.6790 1231.46 1383.90)' x='0' y='0' font-size='100' font-family='Liberation Sans' font-weight='bold'>3</text><text transform='matrix(0.6510 0 0 0.6790 1476.22 1383.90)' x='0' y='0' font-size='100' font-family='Liberation Sans' font-weight='bold'>2</text><path d='M1738.50 1336.00 L1746.71 1336.00 L1746.71 1384.20 L1736.83 1384.20 L1736.83 1349.98 L1724.51 1357.21 L1724.51 1348.05 Q1734.72 1341.78 1738.50 1336.00Z'/><text transform='matrix(0.6510 0 0 0.6790 1966.40 1383.90)' x='0' y='0' font-size='100' font-family='Liberation Sans' font-weight='bold'>0</text><text transform='matrix(0.6568 0 0 0.6394 883.57 1457.86)' x='0' y='0' font-size='100' font-family='Liberation Serif' font-weight='bold'>δ</text><text transform='matrix(0.6507 0 0 0.6468 933.45 1457.22)' x='0' y='0' font-size='100' font-family='Liberation Sans' font-weight='bold'>(ppm)</text><text transform='matrix(0.3293 0 0 0.3449 1564.59 731.80)' x='0' y='0' font-size='100' font-family='Liberation Sans' font-weight='bold'>H</text><text transform='matrix(0.2239 0 0 0.2257 1588.68 740.90)' x='0' y='0' font-size='100' font-family='Liberation Sans'>2</text><text transform='matrix(0.3271 0 0 0.3352 1600.59 731.66)' x='0' y='0' font-size='100' font-family='Liberation Sans' font-weight='bold'>O</text><g fill='#000'><path d='M228.70 356.30 L230.65 346.70 A2.45 2.45 0 1 0 225.75 346.70 L227.70 356.30 Z'/><path d='M227.70 356.30 L225.75 365.90 A2.45 2.45 0 1 0 230.65 365.90 L228.70 356.30 Z'/><path d='M228.43 356.74 L238.29 353.77 A2.50 2.50 0 1 0 235.94 349.35 L227.97 355.86 Z'/><path d='M228.43 355.86 L220.46 349.35 A2.50 2.50 0 1 0 218.11 353.77 L227.97 356.74 Z'/><path d='M227.97 355.86 L218.11 358.83 A2.50 2.50 0 1 0 220.46 363.25 L228.43 356.74 Z'/><path d='M227.97 356.74 L235.94 363.25 A2.50 2.50 0 1 0 238.29 358.83 L228.43 355.86 Z'/></g><g fill='#000'><path d='M228.70 782.40 L230.65 772.80 A2.45 2.45 0 1 0 225.75 772.80 L227.70 782.40 Z'/><path d='M227.70 782.40 L225.75 792.00 A2.45 2.45 0 1 0 230.65 792.00 L228.70 782.40 Z'/><path d='M228.43 782.84 L238.29 779.87 A2.50 2.50 0 1 0 235.94 775.45 L227.97 781.96 Z'/><path d='M228.43 781.96 L220.46 775.45 A2.50 2.50 0 1 0 218.11 779.87 L227.97 782.84 Z'/><path d='M227.97 781.96 L218.11 784.93 A2.50 2.50 0 1 0 220.46 789.35 L228.43 782.84 Z'/><path d='M227.97 782.84 L235.94 789.35 A2.50 2.50 0 1 0 238.29 784.93 L228.43 781.96 Z'/></g><g fill='#000'><path d='M228.70 1135.40 L230.65 1125.80 A2.45 2.45 0 1 0 225.75 1125.80 L227.70 1135.40 Z'/><path d='M227.70 1135.40 L225.75 1145.00 A2.45 2.45 0 1 0 230.65 1145.00 L228.70 1135.40 Z'/><path d='M228.43 1135.84 L238.29 1132.87 A2.50 2.50 0 1 0 235.94 1128.45 L227.97 1134.96 Z'/><path d='M228.43 1134.96 L220.46 1128.45 A2.50 2.50 0 1 0 218.11 1132.87 L227.97 1135.84 Z'/><path d='M227.97 1134.96 L218.11 1137.93 A2.50 2.50 0 1 0 220.46 1142.35 L228.43 1135.84 Z'/><path d='M227.97 1135.84 L235.94 1142.35 A2.50 2.50 0 1 0 238.29 1137.93 L228.43 1134.96 Z'/></g></g></svg></body></html>
